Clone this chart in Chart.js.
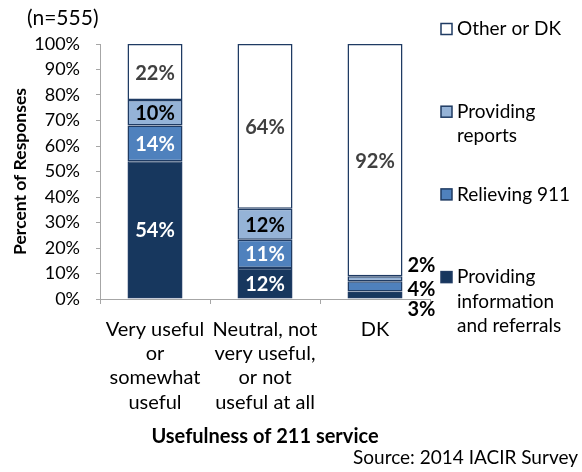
<!DOCTYPE html>
<html>
<head>
<meta charset="utf-8">
<script src="https://cdn.jsdelivr.net/npm/chart.js@4/dist/chart.umd.min.js"></script>
<style>
  html, body { margin: 0; padding: 0; background: #fff; }
  #wrap { width: 582px; height: 472px; position: relative; }
</style>
</head>
<body>
<div id="wrap"><canvas id="chart"></canvas></div>
<script>
// chart values (percent of responses, as printed on the bars)
const categories = [
  ["Very useful", "or", "somewhat", "useful"],
  ["Neutral, not", "very useful,", "or not", "useful at all"],
  ["DK"],
];
const infoReferrals = [54, 12, 3];
const relieving911 = [14, 11, 4];
const providingReports = [10, 12, 2];
const otherOrDk = [22, 64, 92];
const yTicks = [0, 10, 20, 30, 40, 50, 60, 70, 80, 90, 100];

const seriesLabels = [
  ["Providing", "information", "and referrals"],
  ["Relieving 911"],
  ["Providing", "reports"],
  ["Other or DK"],
];
const seriesValues = [infoReferrals, relieving911, providingReports, otherOrDk];
const seriesColors = ["#17375E", "#4F81BD", "#95B3D7", "#FFFFFF"];
const labelColors = ["#FFFFFF", "#FFFFFF", "#000000", "#404040"];
const edgeColor = "#1F3B63";

Chart.defaults.font.family = "Lato, 'Open Sans', sans-serif";
Chart.defaults.color = "#000";

// Excel-style 100% stacking: each bar is scaled to its own total
const totals = categories.map((_, i) =>
  seriesValues.reduce((sum, s) => sum + s[i], 0)
);

const datasets = seriesValues.map((vals, k) => ({
  label: seriesLabels[k].join(" "),
  data: vals.map((v, i) => (v / totals[i]) * 100),
  raw: vals,
  backgroundColor: seriesColors[k],
  borderColor: edgeColor,
  borderWidth: 1.5,
  borderSkipped: false,
  barPercentage: 0.5,
  categoryPercentage: 1.0,
}));

// percent labels inside the segments, or beside the bar when too thin
const outsideShift = [15, 3, -13, 0];
const segmentLabels = {
  id: "segmentLabels",
  afterDatasetsDraw(chart) {
    const ctx = chart.ctx;
    ctx.save();
    ctx.font = "bold 20px Lato";
    ctx.textBaseline = "middle";
    chart.data.datasets.forEach((ds, k) => {
      const meta = chart.getDatasetMeta(k);
      meta.data.forEach((bar, i) => {
        const { x, y, base, width } = bar.getProps(["x", "y", "base", "width"], true);
        const text = ds.raw[i] + "%";
        const mid = (y + base) / 2;
        if (Math.abs(base - y) < 14) {
          ctx.fillStyle = "#000";
          ctx.textAlign = "left";
          ctx.fillText(text, x + width / 2 + 5, mid + outsideShift[k]);
        } else {
          ctx.fillStyle = labelColors[k];
          ctx.textAlign = "center";
          ctx.fillText(text, x, mid + 1);
        }
      });
    });
    ctx.restore();
  },
};

// legend on the right, top item = last series, wrapped like the original
const sideLegend = {
  id: "sideLegend",
  afterDraw(chart) {
    const ctx = chart.ctx;
    const left = chart.chartArea.right + 11;
    ctx.save();
    ctx.font = "19px Lato";
    ctx.textBaseline = "middle";
    ctx.textAlign = "left";
    const order = [3, 2, 1, 0];
    order.forEach((k, n) => {
      const top = 29 + n * 82.7;
      ctx.fillStyle = seriesColors[k];
      ctx.fillRect(left, top - 5.5, 11, 11);
      ctx.strokeStyle = edgeColor;
      ctx.lineWidth = 1.5;
      ctx.strokeRect(left, top - 5.5, 11, 11);
      ctx.fillStyle = "#000";
      seriesLabels[k].forEach((line, j) => {
        ctx.fillText(line, left + 16, top + j * 24.5);
      });
    });

    ctx.font = "21px Lato";
    ctx.fillText("(n=555)", 27, 18);

    ctx.font = "19px Lato";
    ctx.textAlign = "right";
    ctx.fillText("Source: 2014 IACIR Survey", 578, 458);
    ctx.restore();
  },
};

new Chart(document.getElementById("chart"), {
  type: "bar",
  data: { labels: categories, datasets },
  options: {
    responsive: true,
    maintainAspectRatio: false,
    animation: false,
    layout: { padding: { top: 44, right: 152, left: 0, bottom: 0 } },
    plugins: {
      legend: { display: false },
      tooltip: { enabled: false },
    },
    scales: {
      x: {
        stacked: true,
        grid: { drawOnChartArea: false, tickLength: 5, color: "#A6A6A6", offset: true },
        border: { color: "#A6A6A6" },
        ticks: {
          font: { size: 20, lineHeight: 1.22 },
          color: "#000",
          padding: 13,
          maxRotation: 0,
          autoSkip: false,
        },
        title: {
          display: true,
          text: "Usefulness of 211 service",
          font: { size: 20, weight: "bold" },
          color: "#000",
          padding: { top: 0, bottom: 23 },
        },
        afterFit(scale) {
          scale.height = 173;
        },
      },
      y: {
        stacked: true,
        min: 0,
        max: 100,
        afterBuildTicks(scale) {
          scale.ticks = yTicks.map((v) => ({ value: v }));
        },
        grid: { drawOnChartArea: false, tickLength: 4, color: "#A6A6A6" },
        border: { color: "#A6A6A6" },
        ticks: {
          font: { size: 18 },
          color: "#000",
          padding: 16,
          callback: (v) => v + "%",
        },
        title: {
          display: true,
          text: "Percent of Responses",
          font: { size: 17.5, weight: "bold" },
          color: "#000",
          padding: { top: 9.5, bottom: 0 },
        },
        afterFit(scale) {
          scale.width = 100;
        },
      },
    },
  },
  plugins: [segmentLabels, sideLegend],
});
</script>
</body>
</html>
